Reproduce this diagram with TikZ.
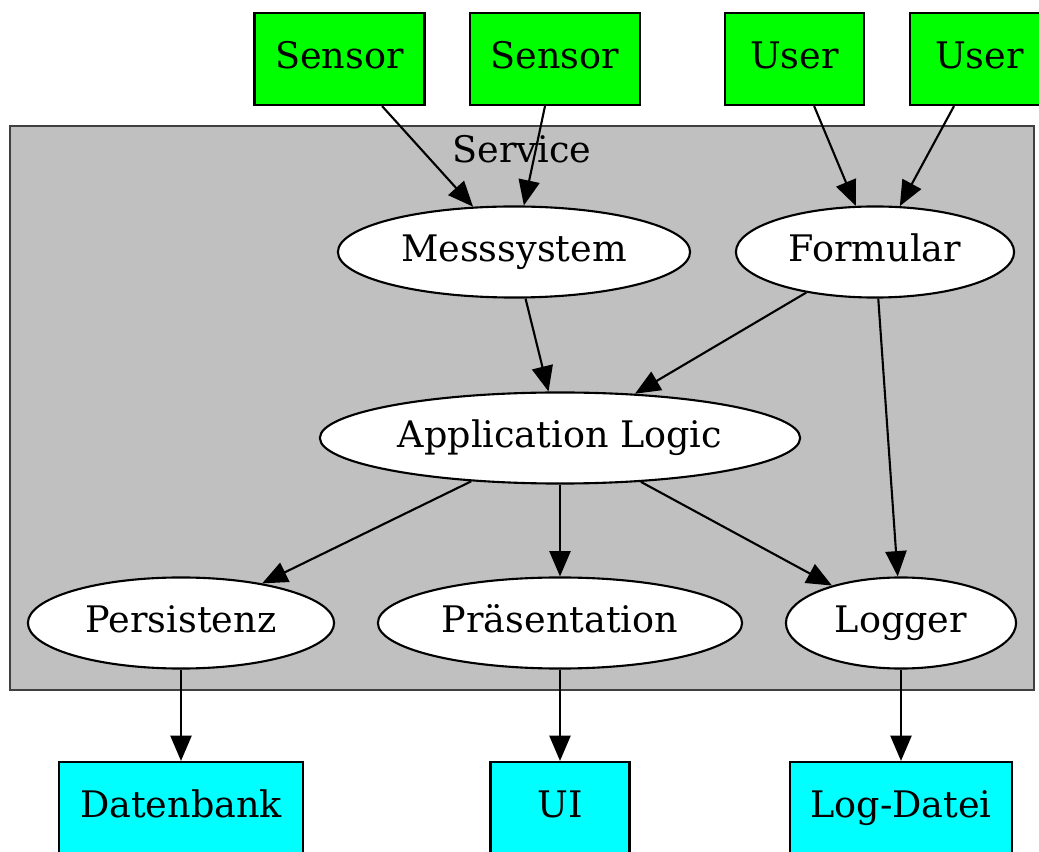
\documentclass[tikz,border=0pt]{standalone}
\usepackage{fontspec}
\setmainfont{DejaVu Serif}
\usetikzlibrary{shapes.geometric,arrows.meta}
\definecolor{srcgreen}{RGB}{0,255,0}
\definecolor{sinkcyan}{RGB}{0,255,255}
\definecolor{clgray}{RGB}{192,192,192}
\begin{document}
\begin{tikzpicture}
  [x=0.01cm,y=-0.01cm,line width=0.6pt,
   every node/.style={font=\fontsize{10.4}{12}\selectfont,inner sep=0pt,text height=0.75em,text depth=0.22em},
   inbox/.style={rectangle,draw,fill=srcgreen,minimum height=0.92cm,minimum width=#1},
   outbox/.style={rectangle,draw,fill=sinkcyan,minimum height=0.92cm,minimum width=#1},
   comp/.style={ellipse,draw,fill=white,minimum height=0.91cm,minimum width=#1},
   flow/.style={-{Triangle[length=7.2pt,width=6pt]}}]
  \useasboundingbox (0,0) rectangle (1039,852);
  \clip (0,0) rectangle (1039,852);

  % cluster
  \draw[fill=clgray,draw=black!75] (10,126) rectangle (1034,690);
  \node (svc) at (522,153) {Service};

  \node[inbox=1.70cm] (s1) at (339.5,59) {Sensor};
  \node[inbox=1.70cm] (s2) at (555,59)   {Sensor};
  \node[inbox=1.39cm] (u1) at (794.5,59) {User};
  \node[inbox=1.39cm] (u2) at (979.5,59) {User};

  \node[comp=3.52cm] (mess)  at (514,252) {Messsystem};
  \node[comp=2.78cm] (form)  at (875,252) {Formular};
  \node[comp=4.80cm] (app)   at (560,438) {Application Logic};
  \node[comp=3.06cm] (pers)  at (181,623) {Persistenz};
  \node[comp=3.64cm] (praes) at (560,623) {Präsentation};
  \node[comp=2.30cm] (logg)  at (901,623) {Logger};

  \node[outbox=2.44cm] (db)   at (181,808) {Datenbank};
  \node[outbox=1.39cm] (ui)   at (560,808) {UI};
  \node[outbox=2.21cm] (logf) at (901,808) {Log-Datei};

  \foreach \from/\to in {s1/mess,s2/mess,u1/form,u2/form,mess/app,form/app,form/logg,
  app/pers,app/praes,app/logg,pers/db,praes/ui,logg/logf}
    \draw[flow] (\from) -- (\to);
\end{tikzpicture}
\end{document}
